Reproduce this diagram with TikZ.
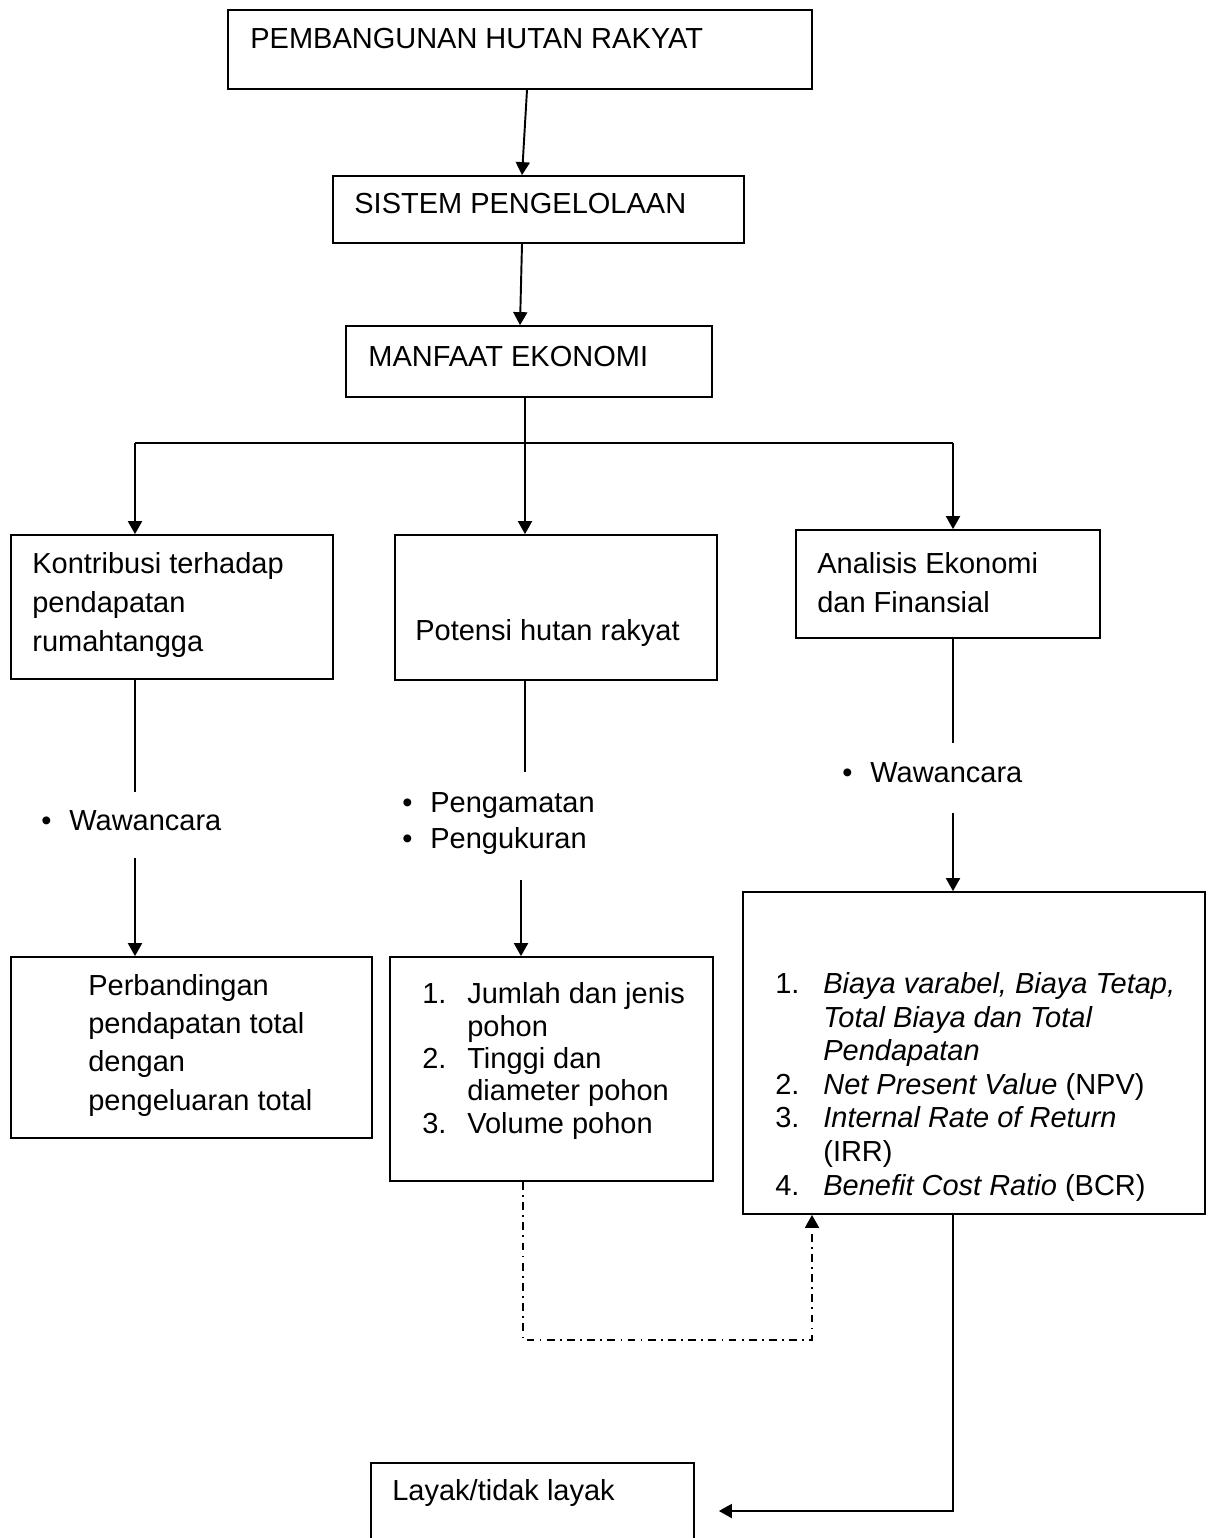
\documentclass[tikz,border=0pt]{standalone}
\usepackage{fontspec}
\setmainfont{Liberation Sans}
\usepackage{tikz}
\usetikzlibrary{arrows.meta}
\usetikzlibrary{positioning}
\usetikzlibrary{calc}
\usetikzlibrary{fit}
\tikzset{
  % filled triangle tips as in the scan
  >={Triangle[length=0.26cm,width=0.28cm]},
  % Common styles for the chart
  box/.style={draw, line width=1pt, inner sep=0pt, fit={#1}},
  txt/.style={anchor=base west, inner sep=0pt, align=left,
              font=\fontsize{16.5}{22.2}\selectfont},
  line/.style={draw, line width=1.1pt},
  arrow/.style={line, ->},
  dotarrow/.style={arrow, dash pattern=on 4.5pt off 3pt on 1pt off 3pt}
}
\newcommand{\itm}[2][0.9cm]{\makebox[#1][l]{#2}}
\newcommand{\blt}{\makebox[0.56cm][l]{\textbullet}}

\begin{document}
\begin{tikzpicture}[x=0.02cm, y=-0.02cm]
\path[use as bounding box, clip] (0,0) rectangle (1215,1538);

% Boxes
\node[box={(228,10) (812,89)}] (hutan) {};
\node[box={(333,176) (744,243)}] (sistem) {};
\node[box={(346,326) (712,397)}] (manfaat) {};
\node[box={(11,535) (333,679)}] (kontribusi) {};
\node[box={(395,535) (717,680)}] (potensi) {};
\node[box={(796,530) (1100,638)}] (analisis) {};
\node[box={(11,957) (372,1138)}] (banding) {};
\node[box={(390,957) (713,1181)}] (ukur) {};
\node[box={(743,892) (1205,1214)}] (biaya) {};
\node[box={(371,1463) (694,1559)}] (layak) {};

% Box texts (multi-line ones sit on their last baseline)
\node[txt] (hutantext) at (250,48) {PEMBANGUNAN HUTAN RAKYAT};
\node[txt] (sistemtext) at (354,213) {SISTEM PENGELOLAAN};
\node[txt] (manfaattext) at (368,366) {MANFAAT EKONOMI};
\node[txt] (kontribusitext) at (32,651) {Kontribusi terhadap\\pendapatan\\rumahtangga};
\node[txt] (potensitext) at (415,640) {Potensi hutan rakyat};
\node[txt] (analisistext) at (817,612) {Analisis Ekonomi\\dan Finansial};
\node[txt, font=\fontsize{16.5}{21.8}\selectfont] (bandingtext) at (88,1110)
  {Perbandingan\\pendapatan total\\dengan\\pengeluaran total};
\node[txt, font=\fontsize{16.5}{18.4}\selectfont] (ukurtext) at (422,1133)
  {\itm{1.}Jumlah dan jenis\\\itm{}pohon\\\itm{2.}Tinggi dan\\\itm{}diameter pohon\\\itm{3.}Volume pohon};
\node[txt, font=\fontsize{16.5}{19.1}\selectfont] (biayatext) at (775,1195)
  {\itm[0.96cm]{1.}\textit{Biaya varabel, Biaya Tetap,}\\
   \itm[0.96cm]{}\textit{Total Biaya dan Total}\\
   \itm[0.96cm]{}\textit{Pendapatan}\\
   \itm[0.96cm]{2.}\textit{Net Present Value} (NPV)\\
   \itm[0.96cm]{3.}\textit{Internal Rate of Return}\\
   \itm[0.96cm]{}(IRR)\\
   \itm[0.96cm]{4.}\textit{Benefit Cost Ratio} (BCR)};
\node[txt] (layaktext) at (392,1500) {Layak/tidak layak};

% Methods
\node[txt, text height=0.76cm, text depth=0.56cm] (wawL) at (41,830) {\blt Wawancara};
\node[txt, font=\fontsize{16.5}{20.4}\selectfont, text height=1.52cm, text depth=0.64cm]
  (wawM) at (402,848) {\blt Pengamatan\\\blt Pengukuran};
\node[txt, text height=0.78cm, text depth=0.62cm] (wawR) at (842,782) {\blt Wawancara};

% Top chain
\draw[arrow] ([xshift=0.14cm]hutan.south) -- ([xshift=-0.33cm]sistem.north);
\draw[arrow] ([xshift=-0.33cm]sistem.south) -- ([xshift=-0.18cm]manfaat.north);

% Split
\coordinate (hub) at (525,443);
\coordinate (hubL) at (135,443);
\coordinate (hubR) at (953,443);
\draw[line] (hub |- manfaat.south) -- (hub);
\draw[line] (hubL) -- (hubR);
\draw[arrow] (hubL) -- (hubL |- kontribusi.north);
\draw[arrow] (hub) -- (hub |- potensi.north);
\draw[arrow] (hubR) -- (hubR |- analisis.north);

% Columns
\draw[line] (hubL |- kontribusi.south) -- (hubL |- wawL.north);
\draw[arrow] (hubL |- wawL.south) -- (hubL |- banding.north);
\draw[line] (hub |- potensi.south) -- (hub |- wawM.north);
\draw[arrow] ([xshift=-0.08cm]hub |- wawM.south) -- ([xshift=-0.08cm]hub |- ukur.north);
\draw[line] (hubR |- analisis.south) -- (hubR |- wawR.north);
\draw[arrow] (hubR |- wawR.south) -- (hubR |- biaya.north);

% Feedback
\coordinate (dotL) at (523,1340);
\coordinate (dotR) at (812,1340);
\draw[dotarrow] (dotL |- ukur.south) -- (dotL) -- (dotR) -- (dotR |- biaya.south);
\draw[arrow] (hubR |- biaya.south) |- ([xshift=0.48cm]layak.east);

\end{tikzpicture}
\end{document}
